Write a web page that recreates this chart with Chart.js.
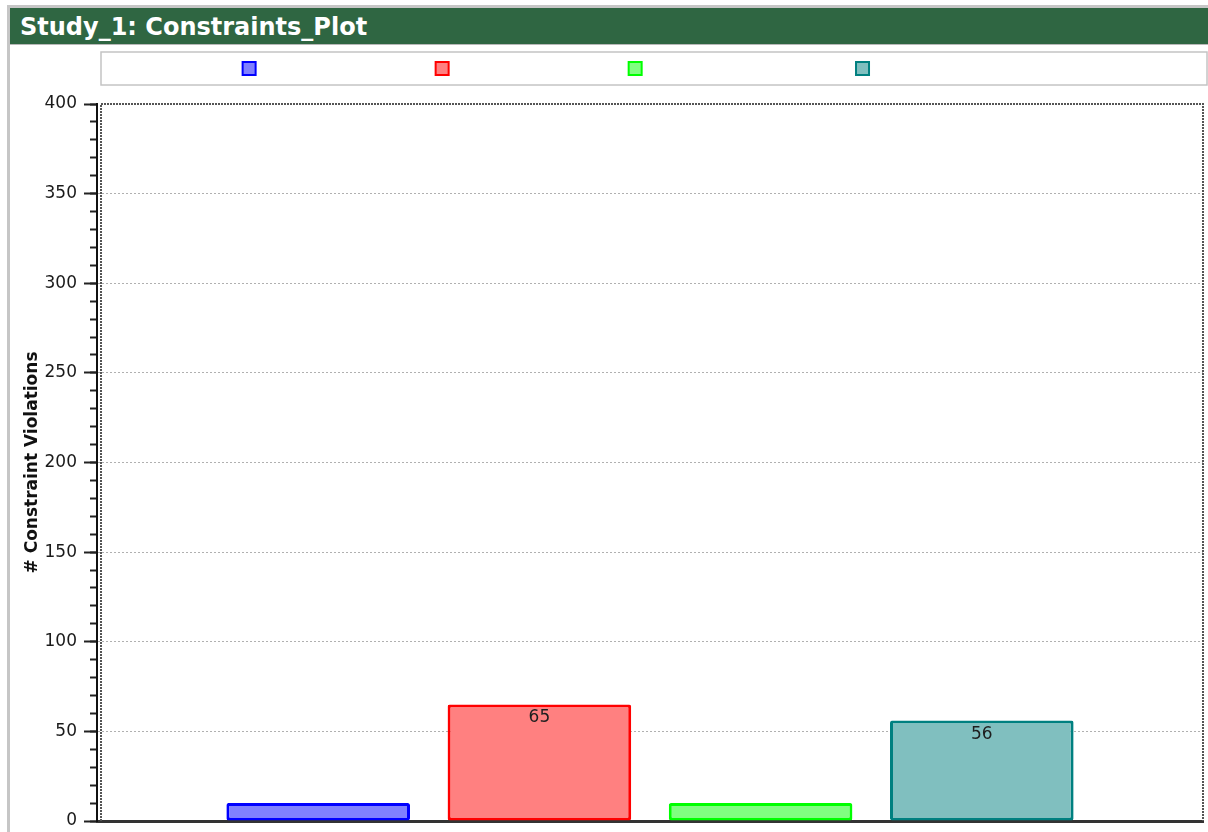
<!DOCTYPE html>
<html>
<head>
<meta charset="utf-8">
<script src="https://cdn.jsdelivr.net/npm/chart.js@4.4.1/dist/chart.umd.min.js"></script>
<style>
  body { margin: 0; background: #fff; }
  #frame { position: absolute; left: 7px; top: 5px; width: 1201px; height: 827px; border-left: 3px solid #c6c6c6; border-top: 3px solid #c6c6c6; }
  #head { height: 37px; background: #2f6642; color: #fff; font: bold 24px "DejaVu Sans", sans-serif; line-height: 39px; padding-left: 10px; box-sizing: border-box; border-bottom: 1px solid #b8b8b8; }
  #box { position: absolute; left: 0; top: 36px; width: 1198px; height: 788px; }
</style>
</head>
<body>
<div id="frame">
  <div id="head">Study_1: Constraints_Plot</div>
  <div id="box"><canvas id="myChart"></canvas></div>
</div>
<script>
// violations per series, each sitting in its own slot on the x axis
const seriesValues = [10, 65, 10, 56]
const seriesBorders = ['#0000ff', '#ff0000', '#00ff00', '#008080']
const seriesFills = ['#8080ff', '#ff8080', '#80ff80', '#80bfbf']
const slotLabels = ['', '', '', '', '', '']
const seriesSlots = [1, 2, 3, 4]
const yMajorStep = 50
const yMinorStep = 10

// legend entry widths (the label text is blank)
const legendTextWidths = [165, 163, 200, 95]
const measure = document.createElement('canvas').getContext('2d')
measure.font = '12px "DejaVu Sans"'
const spaceW = measure.measureText(' ').width
const blankLabel = px => ' '.repeat(Math.round(px / spaceW))

const datasets = seriesValues.map((v, i) => {
    const values = slotLabels.map(() => null)
    values[seriesSlots[i]] = v
    return {
        label: blankLabel(legendTextWidths[i]),
        data: values,
        backgroundColor: seriesFills[i],
        borderColor: seriesBorders[i],
        borderWidth: 3,
        borderSkipped: false,
        borderRadius: 2,
        grouped: false,
        categoryPercentage: 1,
        barPercentage: 0.83,
    }
})

// numbers written just inside the top of the taller bars
const valueLabels = {
    id: 'valueLabels',
    afterDatasetsDraw(chart) {
        const ctx = chart.ctx
        ctx.save()
        ctx.font = '17px "DejaVu Sans"'
        ctx.fillStyle = '#1e1e1e'
        ctx.textAlign = 'center'
        ctx.textBaseline = 'top'
        chart.data.datasets.forEach((ds, i) => {
            const meta = chart.getDatasetMeta(i)
            ds.data.forEach((v, j) => {
                if (v == null || v < 20) return
                const bar = meta.data[j]
                ctx.fillText(String(v), bar.x, bar.y + 5)
            })
        })
        ctx.restore()
    }
}

// dotted plot frame and the box around the legend
const frames = {
    id: 'frames',
    beforeDatasetsDraw(chart) {
        const { ctx, chartArea: a, legend } = chart
        ctx.save()
        ctx.strokeStyle = '#555'
        ctx.lineWidth = 2
        ctx.setLineDash([2, 1])
        ctx.beginPath()
        ctx.moveTo(a.left + 4, a.bottom)
        ctx.lineTo(a.left + 4, a.top)
        ctx.lineTo(a.right, a.top)
        ctx.lineTo(a.right, a.bottom)
        ctx.stroke()
        ctx.setLineDash([])
        ctx.strokeStyle = '#c4c4c4'
        ctx.lineWidth = 1.5
        ctx.strokeRect(a.left + 4, legend.top, chart.width - a.left - 5, legend.height)
        ctx.restore()
    }
}

Chart.defaults.font.family = "'DejaVu Sans', sans-serif"

const config = {
    type: 'bar',
    data: { labels: slotLabels, datasets: datasets },
    plugins: [frames, valueLabels],
    options: {
        responsive: true,
        maintainAspectRatio: false,
        animation: false,
        layout: { padding: { top: 8, left: 0, right: 5, bottom: 11 } },
        plugins: {
            tooltip: { enabled: false },
            legend: {
                position: 'top',
                labels: {
                    boxWidth: 13,
                    boxHeight: 13,
                    padding: 10,
                    color: '#fff',
                    font: { family: 'DejaVu Sans', size: 12 },
                    generateLabels: chart => Chart.defaults.plugins.legend.labels.generateLabels(chart)
                        .map(l => ({ ...l, lineWidth: 2 })),
                },
            },
        },
        scales: {
            x: {
                type: 'category',
                offset: false,
                ticks: { display: false },
                grid: { display: false, drawTicks: false },
                border: { color: '#333', width: 3 },
                afterFit: a => { a.height = 0 },
            },
            xTop: {
                type: 'category',
                axis: 'x',
                position: 'top',
                labels: slotLabels,
                offset: false,
                ticks: { display: false },
                grid: { display: false, drawTicks: false },
                border: { display: false },
                afterFit: a => { a.height = 19 },
            },
            y: {
                position: 'left',
                weight: 1,
                min: 0,
                max: 400,
                ticks: {
                    stepSize: yMajorStep,
                    color: '#1a1a1a',
                    font: { family: 'DejaVu Sans', size: 17 },
                    padding: 7,
                },
                grid: {
                    color: c => (c.tick && (c.tick.value === 0 || c.tick.value === 400)) ? 'rgba(0,0,0,0)' : '#b0b0b0',
                    tickColor: '#222',
                    tickLength: 13,
                    tickWidth: 2,
                },
                border: { display: true, color: '#111', width: 2, dash: [2, 2] },
                title: {
                    display: true,
                    text: '# Constraint Violations',
                    color: '#111',
                    font: { family: 'DejaVu Sans', size: 17, weight: 'bold' },
                    padding: { top: 12, bottom: 0 },
                },
                afterFit: a => {
                    a.width = 87
                    a.paddingTop = 0
                    a.paddingBottom = 0
                },
            },
            yMinor: {
                position: 'left',
                axis: 'y',
                weight: 0,
                min: 0,
                max: 400,
                ticks: { stepSize: yMinorStep, display: false, maxTicksLimit: 100, autoSkip: false },
                grid: { drawOnChartArea: false, tickColor: '#222', tickLength: 7, tickWidth: 2 },
                border: { display: false },
                afterFit: a => {
                    a.width = 0
                    a.paddingTop = 0
                    a.paddingBottom = 0
                },
            },
        },
    },
}

const myChart = new Chart(document.getElementById('myChart'), config)
</script>
</body>
</html>
